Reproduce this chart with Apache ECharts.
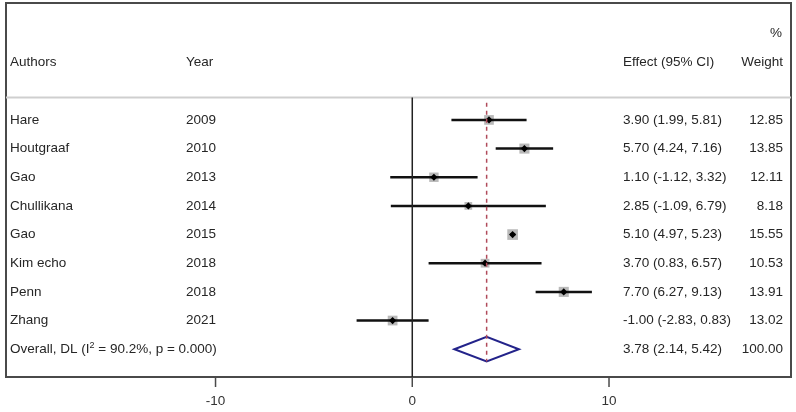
<!DOCTYPE html>
<html>
<head>
<meta charset="utf-8">
<script src="https://cdn.jsdelivr.net/npm/echarts@6/dist/echarts.min.js"></script>
<style>
  html, body { margin: 0; padding: 0; background: #fff; }
  #chart { width: 796px; height: 412px; }
</style>
</head>
<body>
<div id="chart"></div>
<script>
const authors = ['Hare', 'Houtgraaf', 'Gao', 'Chullikana', 'Gao', 'Kim echo', 'Penn', 'Zhang']
const years = ['2009', '2010', '2013', '2014', '2015', '2018', '2018', '2021']
const effects = [3.9, 5.7, 1.1, 2.85, 5.1, 3.7, 7.7, -1.0]
const lower = [1.99, 4.24, -1.12, -1.09, 4.97, 0.83, 6.27, -2.83]
const upper = [5.81, 7.16, 3.32, 6.79, 5.23, 6.57, 9.13, 0.83]
const weights = [12.85, 13.85, 12.11, 8.18, 15.55, 10.53, 13.91, 13.02]
const overallCI = [3.78, 2.14, 5.42]
const overallWeight = 100.0
const tickValues = [-10, 0, 10]

const font = '"Liberation Sans", Arial, sans-serif'
const textColor = '#262626'
const fontSize = 13.5
// pixel columns of the table
const colAuthor = 10
const colYear = 186
const colEffect = 623
const colWeight = 783
const rowHeader = -2.02
const rowPercent = -3.04
const sepRow = -0.78
const xMin = -20.65
const xMax = 19.25
const yMin = -4.08
const yMax = 8.97

const studyData = effects.map((e, i) => [e, i, lower[i], upper[i], weights[i]])
const overallRow = authors.length

function fmt(v) {
  return v.toFixed(2)
}

const rowTexts = authors.map((a, i) => ({
  author: a,
  year: years[i],
  effect: fmt(effects[i]) + ' (' + fmt(lower[i]) + ', ' + fmt(upper[i]) + ')',
  weight: fmt(weights[i]),
}))

function txt(x, y, s, align) {
  return {
    type: 'text',
    style: {
      x: x, y: y, text: s, fill: textColor, font: fontSize + 'px ' + font,
      textAlign: align || 'left', textVerticalAlign: 'middle',
    },
  }
}

const chart = echarts.init(document.getElementById('chart'))
chart.setOption({
  animation: false,
  grid: { left: 6, right: 5, top: 3, bottom: 35, show: true, borderColor: '#4a4a4a', borderWidth: 2 },
  xAxis: {
    type: 'value',
    min: xMin,
    max: xMax,
    splitLine: { show: false },
    axisLine: { show: false },
    axisTick: { show: false },
    axisLabel: { customValues: tickValues, color: '#333', fontSize: fontSize, fontFamily: font, margin: 17 },
  },
  yAxis: { type: 'value', inverse: true, min: yMin, max: yMax, show: false },
  series: [
    {
      type: 'line', silent: true, symbol: 'none',
      data: [[xMin, sepRow], [xMax, sepRow]],
      lineStyle: { color: '#cfcfcf', width: 2 },
    },
    {
      type: 'line', silent: true, symbol: 'none',
      data: [[0, sepRow], [0, yMax]],
      lineStyle: { color: '#222', width: 1.5 },
    },
    {
      type: 'line', silent: true, symbol: 'none',
      data: [[overallCI[0], -0.6], [overallCI[0], 8.43]],
      lineStyle: { color: '#b04a5a', width: 1.5, type: [4, 4] },
    },
    {
      // axis ticks below the frame
      type: 'custom',
      silent: true,
      clip: false,
      data: tickValues.map((v) => [v, yMax]),
      renderItem: function (params, api) {
        const p = api.coord([api.value(0), api.value(1)])
        return {
          type: 'line',
          shape: { x1: p[0], y1: p[1], x2: p[0], y2: p[1] + 10 },
          style: { stroke: '#4a4a4a', lineWidth: 1.5 },
        }
      },
    },
    {
      type: 'custom',
      silent: true,
      data: studyData,
      renderItem: function (params, api) {
        const c = api.coord([api.value(0), api.value(1)])
        const lo = api.coord([api.value(2), api.value(1)])
        const hi = api.coord([api.value(3), api.value(1)])
        const s = 2.7 * Math.sqrt(api.value(4))
        const d = 3.6
        return {
          type: 'group',
          children: [
            { type: 'rect', shape: { x: c[0] - s / 2, y: c[1] - s / 2, width: s, height: s }, style: { fill: '#b9b9b9' } },
            { type: 'line', shape: { x1: lo[0], y1: lo[1], x2: hi[0], y2: hi[1] }, style: { stroke: '#111', lineWidth: 2.5 } },
            {
              type: 'polygon',
              shape: { points: [[c[0] - d, c[1]], [c[0], c[1] - d], [c[0] + d, c[1]], [c[0], c[1] + d]] },
              style: { fill: '#000' },
            },
          ],
        }
      },
    },
    {
      type: 'custom',
      silent: true,
      data: [[overallCI[0], overallRow, overallCI[1], overallCI[2]]],
      renderItem: function (params, api) {
        const c = api.coord([api.value(0), api.value(1)])
        const lo = api.coord([api.value(2), api.value(1)])
        const hi = api.coord([api.value(3), api.value(1)])
        const h = 12.3
        return {
          type: 'polygon',
          shape: { points: [[lo[0], c[1]], [c[0], c[1] - h], [hi[0], c[1]], [c[0], c[1] + h]] },
          style: { fill: 'none', stroke: '#23238a', lineWidth: 2 },
        }
      },
    },
    {
      type: 'custom',
      silent: true,
      data: rowTexts.map((r, i) => [0, i]),
      renderItem: function (params, api) {
        const y = api.coord([0, api.value(1)])[1]
        const r = rowTexts[params.dataIndex]
        return {
          type: 'group',
          children: [
            txt(colAuthor, y, r.author),
            txt(colYear, y, r.year),
            txt(colEffect, y, r.effect),
            txt(colWeight, y, r.weight, 'right'),
          ],
        }
      },
    },
    {
      type: 'custom',
      silent: true,
      data: [[0, overallRow]],
      renderItem: function (params, api) {
        const y = api.coord([0, api.value(1)])[1]
        const h = api.coord([0, rowHeader])[1]
        const p = api.coord([0, rowPercent])[1]
        return {
          type: 'group',
          children: [
            {
              type: 'text',
              style: {
                x: colAuthor, y: y,
                text: 'Overall, DL (I{sup|2} = 90.2%, p = 0.000)',
                fill: textColor, font: fontSize + 'px ' + font,
                textVerticalAlign: 'middle',
                rich: { sup: { fontSize: 9, fontFamily: font, verticalAlign: 'top', padding: [0, 0, 7, 0], fill: textColor } },
              },
            },
            txt(colEffect, y, fmt(overallCI[0]) + ' (' + fmt(overallCI[1]) + ', ' + fmt(overallCI[2]) + ')'),
            txt(colWeight, y, fmt(overallWeight), 'right'),
            txt(colAuthor, h, 'Authors'),
            txt(colYear, h, 'Year'),
            txt(colEffect, h, 'Effect (95% CI)'),
            txt(colWeight, h, 'Weight', 'right'),
            txt(colWeight - 1, p, '%', 'right'),
          ],
        }
      },
    },
  ],
})
</script>
</body>
</html>
